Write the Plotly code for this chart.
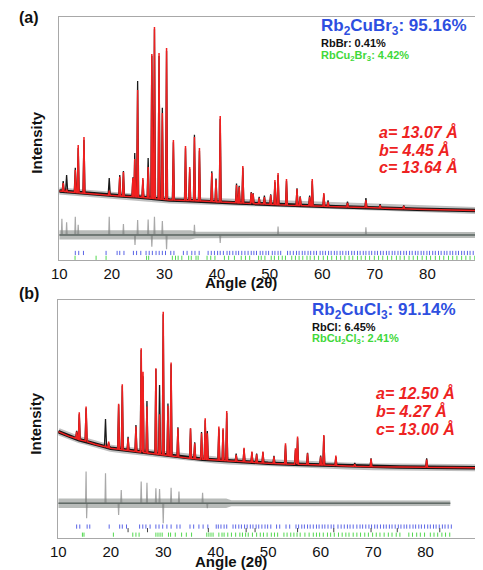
import numpy as np
import plotly.graph_objects as go

# ---------------- Panel (a): Rb2CuBr3 ----------------
a_bg_angle = [10, 13, 16, 19, 22, 25, 28, 31, 34, 37, 40, 44, 47, 50, 53, 56, 59, 62.6, 66, 68.8, 72, 75, 78, 81, 84, 87, 90]
a_bg_int = [28.4, 27.8, 27.3, 26.7, 26.3, 25.9, 25.3, 24.7, 24.5, 24.3, 23.9, 23.5, 23.2, 22.9, 22.6, 22.4, 22.2, 21.9, 21.7, 21.6, 21.3, 21.1, 20.9, 20.7, 20.6, 20.5, 20.3]
a_peak_pos = [10.75, 11.4, 13.05, 13.6, 14.7, 19.5, 21.5, 22.2, 24.0, 24.35, 24.9, 25.9, 26.9, 27.6, 28.1, 28.97, 29.6, 30.4,
              31.7, 34.0, 34.8, 35.7, 36.65, 39.0, 39.8, 40.6, 43.7, 44.2, 44.9, 46.5, 46.85, 48.0, 49.0, 50.2, 51.0, 51.6,
              53.2, 55.2, 55.8, 57.6, 58.1, 60.3, 61.1, 64.8, 68.3, 71.0, 75.5]
a_peak_calc = [31.7, 29.0, 37.0, 47.3, 50.6, 28.5, 34.2, 36.2, 33.7, 41.6, 70.0, 33.7, 38.3, 84.8, 95.9, 85.2, 60.5, 87.2,
               49.4, 46.9, 38.3, 50.6, 46.1, 35.8, 32.9, 59.3, 30.9, 30.0, 38.7, 27.6, 27.2, 25.5, 25.9, 26.7, 32.9, 35.8,
               33.3, 29.2, 25.9, 25.9, 33.3, 27.6, 23.9, 23.5, 24.7, 22.6, 22.2]
a_peak_obs = [32.5, 35.0, 37.9, 46.1, 49.4, 33.7, 35.0, 36.6, 34.0, 44.0, 73.7, 33.0, 42.0, 84.0, 95.0, 84.0, 62.6, 86.0,
              48.5, 46.0, 37.5, 51.5, 45.0, 36.5, 33.5, 58.0, 31.5, 30.5, 38.0, 28.0, 27.5, 26.0, 26.5, 27.0, 32.0, 35.0,
              32.5, 29.5, 26.2, 26.5, 32.5, 27.0, 24.5, 24.0, 25.5, 23.0, 22.5]
a_diff_level = 10.3
a_diff_band_angle = [10, 35, 36, 90]
a_diff_band_half = [1.9, 1.9, 1.3, 1.2]
a_diff_spike_pos = [10.5, 11.4, 13.05, 13.6, 19.5, 22.2, 24.4, 24.9, 26.9, 27.6, 28.1, 29.6, 30.4, 35.7, 40.6, 51.6, 68.3]
a_diff_spike_val = [17.0, 15.5, 17.8, 14.5, 17.8, 14.8, 6.2, 16.5, 16.7, 5.5, 17.8, 16.0, 4.4, 14.5, 7.0, 13.8, 13.5]
a_tick_main = [13.05, 13.7, 14.6, 18.9, 21.0, 21.5, 22.3, 24.1, 24.7, 25.5, 26.5, 27.1, 27.7, 28.4, 29.0, 29.6, 30.2, 31.2,
               31.8, 33.6, 34.3, 35.2, 35.8, 36.6, 38.3, 38.9, 39.5, 40.1, 40.6, 41.2, 41.9, 42.4, 43.0, 43.6, 44.1, 44.7,
               45.3, 45.9, 46.5, 47.0, 47.5, 48.2, 48.7, 49.3, 49.8, 50.5, 51.0, 51.6, 52.1, 53.4, 53.9, 54.5, 55.1, 55.6,
               56.2, 56.7, 57.3, 57.8, 58.4, 58.9, 59.6, 60.1, 60.6, 61.2, 61.7, 62.3, 62.8, 63.4, 63.9, 64.5, 65.0, 65.6,
               66.1, 66.7, 67.2, 67.8, 68.3, 68.9, 69.4, 70.0, 70.5, 71.1, 71.6, 72.2, 72.7, 73.3, 73.8, 74.4, 74.9, 75.5,
               76.0, 76.6, 77.1, 77.7, 78.2, 78.8, 79.3, 79.9, 80.4, 81.0, 81.5, 82.1, 82.6, 83.2, 83.7, 84.3, 84.8, 85.4,
               85.9, 86.5, 87.0, 87.6, 88.1, 88.7, 89.2, 89.8]
a_tick_minor = [13.0, 17.0, 18.9, 26.6, 27.0, 31.5, 32.1, 32.6, 33.3, 34.6, 35.1, 36.0, 36.4, 38.1, 38.8, 39.6, 41.4, 42.2,
                43.3, 44.6, 45.4, 46.2, 47.9, 48.4, 49.1, 50.3, 50.9, 51.7, 52.4, 53.0, 54.2, 54.9, 55.6, 56.3, 57.1, 57.7,
                58.5, 59.3, 60.2, 61.0, 61.8, 62.7, 63.5, 64.3, 65.1, 65.8, 66.7, 67.4, 68.2, 69.0, 69.9, 70.7, 71.5, 72.4,
                73.2, 74.1, 74.8, 75.6, 76.5, 77.3, 78.1, 79.0, 79.8, 80.6, 81.5, 82.3, 83.1, 84.0, 84.8, 85.6, 86.5, 87.3,
                88.1, 89.0, 89.7]

# ---------------- Panel (b): Rb2CuCl3 ----------------
b_bg_angle = [10, 11, 12, 13, 14, 15.5, 17, 18.5, 20, 22.5, 25, 27.5, 30, 32.5, 35, 37.5, 40, 42.5, 45, 47.5, 50, 55, 60, 65, 70, 75, 80, 85, 90]
b_bg_int = [44.7, 43.7, 42.8, 42.1, 41.3, 40.5, 39.4, 38.6, 37.7, 37.0, 36.3, 35.6, 34.9, 34.2, 33.5, 33.1, 32.8, 32.4, 32.1, 31.7, 31.4, 31.0, 30.7, 30.3, 29.9, 29.8, 29.7, 29.6, 29.5]
b_peak_pos = [13.5, 14.0, 15.3, 19.0, 19.6, 21.5, 22.2, 23.3, 24.8, 25.8, 26.15, 26.9, 28.6, 29.3, 30.0, 30.9, 31.5, 32.8,
              35.2, 36.0, 37.3, 38.0, 38.4, 40.6, 41.4, 42.1, 43.9, 45.4, 46.9, 47.8, 49.0, 51.1, 53.3, 55.2, 55.6, 57.5,
              60.0, 60.6, 62.9, 66.5, 69.6, 80.2]
b_peak_calc = [44.7, 52.8, 55.2, 38.8, 40.5, 56.4, 64.6, 41.9, 46.8, 79.7, 69.9, 55.2, 71.3, 52.0, 95.1, 55.6, 73.7, 46.1,
               46.1, 39.8, 44.0, 50.3, 44.0, 46.8, 46.1, 53.4, 34.9, 37.9, 36.3, 35.2, 36.3, 34.2, 39.8, 37.7, 42.6, 35.6,
               34.2, 43.3, 34.6, 31.0, 33.3, 33.0]
b_peak_obs = [45.0, 52.0, 54.5, 50.0, 40.0, 56.0, 64.0, 42.5, 47.5, 79.0, 68.0, 57.6, 71.0, 64.3, 94.0, 56.5, 73.0, 46.5,
              46.0, 40.2, 44.5, 49.5, 45.0, 46.0, 45.5, 52.5, 35.5, 37.5, 36.0, 35.5, 36.0, 34.5, 39.0, 37.0, 42.0, 35.8,
              34.6, 43.0, 34.0, 31.5, 33.5, 33.5]
b_diff_level = 14.6
b_diff_band_angle = [10, 42, 43, 84.7]
b_diff_band_half = [2.0, 2.0, 1.3, 1.2]
b_diff_spike_pos = [15.3, 15.4, 19.0, 21.5, 22.0, 25.8, 26.9, 28.6, 29.3, 30.0, 31.5, 33.0, 37.5, 38.4]
b_diff_spike_val = [27.9, 8.3, 27.2, 9.7, 20.2, 23.7, 23.2, 20.9, 20.6, 6.2, 21.1, 19.5, 19.0, 12.5]
b_tick_main = [13.5, 14.1, 15.5, 16.0, 19.7, 21.7, 22.2, 23.0, 25.5, 26.1, 26.7, 27.5, 28.6, 29.2, 29.9, 30.7, 31.5, 32.6,
               33.2, 35.1, 35.8, 36.8, 37.6, 38.5, 40.1, 40.5, 41.0, 41.6, 42.1, 43.3, 43.8, 44.4, 44.9, 45.5, 46.0, 46.6,
               47.1, 47.7, 48.2, 48.8, 49.4, 49.9, 50.5, 51.6, 52.2, 53.4, 54.1, 55.3, 55.8, 56.4, 56.9, 57.5, 58.0, 58.6,
               59.2, 59.7, 60.3, 60.8, 61.4, 62.0, 62.5, 63.3, 63.9, 64.5, 65.1, 65.6, 66.2, 66.9, 67.5, 68.0, 68.6, 69.2,
               69.7, 70.3, 70.8, 71.4, 72.0, 72.5, 73.1, 73.6, 74.2, 74.8, 75.3, 75.9, 76.4, 77.0, 77.6, 78.1, 78.7, 79.2,
               79.8, 80.4, 80.9, 81.5, 82.0, 82.6, 83.2, 83.7, 84.3, 84.9]
b_tick_black = [23.3, 27.0, 38.6, 45.8, 47.5, 55.6, 62.5, 69.6, 74.6, 82.7]
b_tick_minor = [14.6, 14.9, 20.5, 24.2, 24.8, 25.4, 28.6, 29.0, 29.4, 29.8, 31.0, 31.4, 32.3, 33.5, 34.4, 35.4, 38.3, 38.7,
                39.1, 39.5, 40.6, 41.2, 41.6, 42.3, 43.0, 43.8, 44.6, 45.1, 45.7, 46.2, 47.0, 47.8, 48.5, 49.1, 49.8, 50.6,
                51.2, 51.8, 53.0, 53.6, 54.3, 54.9, 55.5, 56.1, 57.0, 57.8, 58.6, 59.2, 59.8, 60.5, 61.3, 61.9, 62.6, 63.4,
                64.1, 64.8, 65.4, 66.2, 66.9, 67.6, 68.4, 69.1, 69.9, 70.6, 71.3, 72.1, 72.9, 73.6, 74.4, 75.1, 76.8, 77.5,
                78.3, 79.0, 79.8, 80.9, 81.6, 82.3, 83.1, 83.8, 84.6]

x_tick_vals = [10, 20, 30, 40, 50, 60, 70, 80]
x_tick_text = ["10", "20", "30", "40", "50", "60", "70", "80"]

FONT = "Liberation Sans, Arial, sans-serif"
OFF = 8                 # the page places the figure 8 px from the window's top-left corner
W, H = 483 - OFF, 570 - OFF


def profile(bg_x, bg_y, pk_x, pk_y, hw):
    pts = [(x, y) for x, y in zip(bg_x, bg_y) if all(abs(x - p) > hw for p in pk_x)]
    for p, top in zip(pk_x, pk_y):
        for xx in (p - hw, p + hw):
            pts.append((xx, float(np.interp(xx, bg_x, bg_y))))
        pts.append((p, top))
    pts.sort(key=lambda t: t[0])
    return [t[0] for t in pts], [t[1] for t in pts]


def diff_curve(level, band_x, sp_x, sp_y, hw):
    xs, ys = [band_x[0]], [level]
    for p, v in sorted(zip(sp_x, sp_y)):
        xs += [p - hw, p, p + hw]
        ys += [level, v, level]
    xs.append(band_x[-1])
    ys.append(level)
    return xs, ys


fig = go.Figure()


def add_panel(xa, ya, bg_x, bg_y, pk_x, pk_c, pk_o, d_level, d_bx, d_bh, d_sx, d_sy, ticks):
    # difference curve: spikes, noisy band, darker centre
    dx, dy = diff_curve(d_level, d_bx, d_sx, d_sy, 0.1)
    fig.add_trace(go.Scatter(x=dx, y=dy, mode="lines", line=dict(color="#a9a9a9", width=1.2),
                             xaxis=xa, yaxis=ya, hoverinfo="skip"))
    hi = [d_level + h for h in d_bh]
    lo = [d_level - h for h in d_bh]
    fig.add_trace(go.Scatter(x=d_bx + d_bx[::-1], y=hi + lo[::-1], fill="toself", fillcolor="rgba(125,132,128,0.55)",
                             line=dict(width=0), mode="lines", xaxis=xa, yaxis=ya, hoverinfo="skip"))
    fig.add_trace(go.Scatter(x=[d_bx[0], d_bx[-1]], y=[d_level, d_level], mode="lines",
                             line=dict(color="#616b67", width=1.6), xaxis=xa, yaxis=ya, hoverinfo="skip"))
    # observed: noisy background band + thin peaks
    fig.add_trace(go.Scatter(x=bg_x, y=bg_y, mode="lines", line=dict(color="rgba(140,140,140,0.55)", width=7),
                             xaxis=xa, yaxis=ya, hoverinfo="skip"))
    fig.add_trace(go.Scatter(x=bg_x, y=bg_y, mode="lines", line=dict(color="#151515", width=3.5),
                             xaxis=xa, yaxis=ya, hoverinfo="skip"))
    ox, oy = profile(bg_x, bg_y, pk_x, pk_o, 0.2)
    fig.add_trace(go.Scatter(x=ox, y=oy, mode="lines", line=dict(color="#1a1a1a", width=1.3),
                             xaxis=xa, yaxis=ya, hoverinfo="skip"))
    # calculated
    cx, cy = profile(bg_x, bg_y, pk_x, pk_c, 0.15)
    fig.add_trace(go.Scatter(x=cx, y=cy, mode="lines", line=dict(color="#f02020", width=1.5),
                             xaxis=xa, yaxis=ya, hoverinfo="skip"))
    # Bragg ticks
    for pos, row, col in ticks:
        fig.add_trace(go.Scatter(x=pos, y=[row] * len(pos), mode="markers",
                                 marker=dict(symbol="line-ns", size=3, line=dict(width=1, color=col)),
                                 xaxis=xa, yaxis=ya, hoverinfo="skip"))


add_panel("x", "y", a_bg_angle, a_bg_int, a_peak_pos, a_peak_calc, a_peak_obs,
          a_diff_level, a_diff_band_angle, a_diff_band_half, a_diff_spike_pos, a_diff_spike_val,
          [(a_tick_main, 2.9, "#5a64e6"), (a_tick_minor, 0.9, "#52d84e")])
add_panel("x2", "y2", b_bg_angle, b_bg_int, b_peak_pos, b_peak_calc, b_peak_obs,
          b_diff_level, b_diff_band_angle, b_diff_band_half, b_diff_spike_pos, b_diff_spike_val,
          [(b_tick_main, 4.8, "#5a64e6"), (b_tick_black, 3.3, "#444444"), (b_tick_minor, 1.4, "#52d84e")])


def px(x):
    return (x - OFF) / W


def py(y):
    return 1 - (y - OFF) / H


axis_common = dict(range=[10, 90], tickvals=x_tick_vals, ticktext=x_tick_text, ticks="", showgrid=False,
                   zeroline=False, showline=True, mirror=True, linecolor="#a8a8a8", linewidth=1,
                   tickfont=dict(family=FONT, size=15, color="#111"))
yaxis_common = dict(range=[0, 100], showticklabels=False, ticks="", showgrid=False, zeroline=False,
                    showline=True, mirror=True, linecolor="#a8a8a8", linewidth=1)

fig.update_layout(
    width=W, height=H, margin=dict(l=0, r=0, t=0, b=0),
    paper_bgcolor="white", plot_bgcolor="white", showlegend=False,
    xaxis=dict(domain=[px(52), min(1, px(480))], anchor="y", **axis_common),
    yaxis=dict(domain=[py(260), py(17)], anchor="x", **yaxis_common),
    xaxis2=dict(domain=[px(51), px(478)], anchor="y2", **axis_common),
    yaxis2=dict(domain=[py(538), py(300)], anchor="x2", **yaxis_common),
)

ann = []


def text(x, y, s, size, color="#111", xanchor="left", angle=0):
    ann.append(dict(x=px(x), y=py(y), xref="paper", yref="paper", text=s, showarrow=False,
                    xanchor=xanchor, yanchor="middle", textangle=angle,
                    font=dict(family=FONT, size=size, color=color)))


BLUE = "#2e4fe0"
GREEN = "#3fd83a"
RED = "#ee2222"

# panel (a)
text(9, 17, "<b>(a)</b>", 16)
text(28, 143, "<b>Intensity</b>", 15, xanchor="center", angle=-90)
text(237, 283, "<b>Angle (2θ)</b>", 15, xanchor="center")
text(316, 27, "<b>Rb<sub>2</sub>CuBr<sub>3</sub>: 95.16%</b>", 17, BLUE)
text(316, 43, "<b>RbBr: 0.41%</b>", 11)
text(316, 56, "<b>RbCu<sub>2</sub>Br<sub>3</sub>: 4.42%</b>", 11, GREEN)
text(375, 132, "<b><i>a= 13.07 Å</i></b>", 16, RED)
text(375, 150, "<b><i>b= 4.45 Å</i></b>", 16, RED)
text(375, 167, "<b><i>c= 13.64 Å</i></b>", 16, RED)

# panel (b)
text(9, 293, "<b>(b)</b>", 16)
text(28, 424, "<b>Intensity</b>", 15, xanchor="center", angle=-90)
text(227, 561, "<b>Angle (2θ)</b>", 15, xanchor="center")
text(307, 311, "<b>Rb<sub>2</sub>CuCl<sub>3</sub>: 91.14%</b>", 17, BLUE)
text(307, 327, "<b>RbCl: 6.45%</b>", 11)
text(307, 339, "<b>RbCu<sub>2</sub>Cl<sub>3</sub>: 2.41%</b>", 11, GREEN)
text(372, 393, "<b><i>a= 12.50 Å</i></b>", 16, RED)
text(372, 411, "<b><i>b= 4.27 Å</i></b>", 16, RED)
text(372, 429, "<b><i>c= 13.00 Å</i></b>", 16, RED)

fig.update_layout(annotations=ann)
fig.write_html("out.html")
